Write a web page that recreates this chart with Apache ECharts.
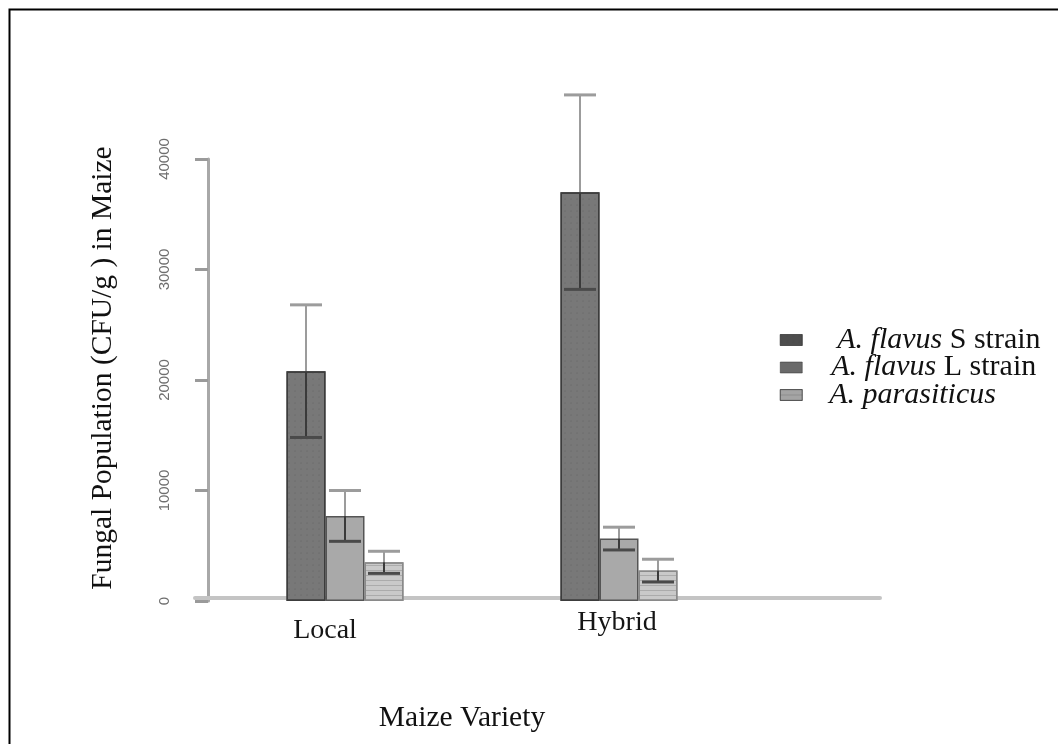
<!DOCTYPE html>
<html>
<head>
<meta charset="utf-8">
<script src="https://cdn.jsdelivr.net/npm/echarts@6/dist/echarts.min.js"></script>
<style>
html,body{margin:0;padding:0;background:#fff;}
#chart{width:1058px;height:744px;}
</style>
</head>
<body>
<div id="chart"></div>
<script>
// ---- data ----
const categories = ['Local', 'Hybrid'];
const seriesNames = ['A. flavus S strain', 'A. flavus L strain', 'A. parasiticus'];
const italicParts = ['A. flavus', 'A. flavus', 'A. parasiticus'];
const normalParts = [' S strain', ' L strain', ''];
const sStrainMeans = [20800, 37000];
const sStrainErrors = [6000, 8800];
const lStrainMeans = [7700, 5650];
const lStrainErrors = [2300, 1030];
const parasiticusMeans = [3500, 2750];
const parasiticusErrors = [1000, 1030];
const yTickMax = 40000;
const yTickStep = 10000;
const yTitle = 'Fungal Population (CFU/g ) in Maize';
const xTitle = 'Maize Variety';

// ---- styling / layout ----
const BAR_W = 39;
const CAP_W = 32;
const zeroY = 601;
const pxPerUnit = 442 / yTickMax;
const plotMax = 48000;
const serif = "'Liberation Serif', 'Times New Roman', serif";
const barFill = ['#787878', '#a9a9a9', '#c9c9c9'];
const barBorder = ['#3c3c3c', '#555555', '#8a8a8a'];
const legendFill = ['#4e4e4e', '#6a6a6a', '#a4a4a4'];
const legendTextPad = [30, 24, 22];
const barDecal = [
  {symbol: 'circle', symbolSize: 0.6, dashArrayX: [[2, 4]], dashArrayY: [2, 4], color: 'rgba(60,60,60,0.35)', rotation: 0},
  null,
  {symbol: 'rect', symbolSize: 1, dashArrayX: [1, 0], dashArrayY: [1, 4], color: 'rgba(80,80,80,0.25)', rotation: 0}
];

const means = [sStrainMeans, lStrainMeans, parasiticusMeans];
const errors = [sStrainErrors, lStrainErrors, parasiticusErrors];

const chart = echarts.init(document.getElementById('chart'), null, {renderer: 'canvas'});

const series = [];
seriesNames.forEach((name, s) => {
  const itemStyle = {color: barFill[s], borderColor: barBorder[s], borderWidth: 1.5};
  if (barDecal[s]) itemStyle.decal = barDecal[s];
  series.push({
    name: name,
    type: 'bar',
    xAxisIndex: 0, yAxisIndex: 0,
    barWidth: BAR_W,
    barGap: '0%',
    itemStyle: itemStyle,
    data: means[s],
    z: 2,
    silent: true
  });
});
seriesNames.forEach((name, s) => {
  series.push({
    type: 'custom',
    xAxisIndex: 0, yAxisIndex: 0,
    z: 4,
    silent: true,
    data: categories.map((c, i) => [i, means[s][i], errors[s][i]]),
    renderItem: function (params, api) {
      const ci = api.value(0), m = api.value(1), e = api.value(2);
      const pMean = api.coord([ci, m]);
      const pTop = api.coord([ci, m + e]);
      const pBot = api.coord([ci, m - e]);
      const x = pMean[0] + (s - 1) * BAR_W;
      return {
        type: 'group',
        children: [
          {type: 'line', shape: {x1: x, y1: pTop[1], x2: x, y2: pMean[1]}, style: {stroke: '#9c9c9c', lineWidth: 2}},
          {type: 'line', shape: {x1: x, y1: pMean[1], x2: x, y2: pBot[1]}, style: {stroke: '#3a3a3a', lineWidth: 2}},
          {type: 'line', shape: {x1: x - CAP_W / 2, y1: pTop[1], x2: x + CAP_W / 2, y2: pTop[1]}, style: {stroke: '#9c9c9c', lineWidth: 3}},
          {type: 'line', shape: {x1: x - CAP_W / 2, y1: pBot[1], x2: x + CAP_W / 2, y2: pBot[1]}, style: {stroke: '#4a4a4a', lineWidth: 3}}
        ]
      };
    }
  });
});

const labelRich = {
  Local: {fontFamily: serif, fontSize: 28, color: '#151515', lineHeight: 26, padding: [17, 40, 0, 0]},
  Hybrid: {fontFamily: serif, fontSize: 28, color: '#151515', lineHeight: 26, padding: [2, 4, 0, 0]}
};

const legendRich = {n: {fontFamily: serif, fontSize: 30, color: '#111', lineHeight: 24}};
legendTextPad.forEach((p, i) => {
  legendRich['i' + i] = {fontFamily: serif, fontSize: 30, fontStyle: 'italic', color: '#111', lineHeight: 24, padding: [0, 0, 0, p]};
});

const option = {
  backgroundColor: '#ffffff',
  animation: false,
  grid: [
    {left: 208, width: 548, top: zeroY - plotMax * pxPerUnit, height: plotMax * pxPerUnit},
    {left: 208, width: 10, top: zeroY - yTickMax * pxPerUnit, height: yTickMax * pxPerUnit},
    {left: 195, width: 685, top: 500, height: 98}
  ],
  xAxis: [
    {
      type: 'category', gridIndex: 0, data: categories,
      axisLine: {show: false}, axisTick: {show: false},
      axisLabel: {
        margin: 8,
        formatter: v => '{' + v + '|' + v + '}',
        rich: labelRich
      }
    },
    {type: 'value', gridIndex: 1, show: false},
    {
      type: 'value', gridIndex: 2,
      axisLine: {show: true, onZero: false, lineStyle: {color: '#c4c4c4', width: 4}},
      axisTick: {show: false}, axisLabel: {show: false}, splitLine: {show: false}
    }
  ],
  yAxis: [
    {type: 'value', gridIndex: 0, min: 0, max: plotMax, show: false},
    {
      type: 'value', gridIndex: 1, min: 0, max: yTickMax, interval: yTickStep,
      axisLine: {show: true, lineStyle: {color: '#a8a8a8', width: 3}},
      axisTick: {show: true, length: 13, lineStyle: {color: '#9a9a9a', width: 3}},
      axisLabel: {rotate: 90, margin: 36, color: '#6e6e6e', fontSize: 15,
                  formatter: v => String(v),
                  fontFamily: "'Liberation Sans Narrow', 'Liberation Sans', Arial, sans-serif"},
      splitLine: {show: false}
    },
    {type: 'value', gridIndex: 2, show: false}
  ],
  legend: {
    orient: 'vertical',
    left: 775, top: 320,
    itemWidth: 22, itemHeight: 11, itemGap: -2.5,
    icon: 'rect',
    selectedMode: false,
    data: seriesNames.map((n, i) => ({name: n, itemStyle: {color: legendFill[i], borderColor: '#333', borderWidth: 0.5}})),
    formatter: function (name) {
      const i = seriesNames.indexOf(name);
      return '{i' + i + '|' + italicParts[i] + '}' + (normalParts[i] ? '{n|' + normalParts[i] + '}' : '');
    },
    textStyle: {
      fontFamily: serif, fontSize: 30, color: '#111', lineHeight: 24,
      rich: legendRich
    }
  },
  graphic: [
    {type: 'rect', left: 7, top: 7, shape: {width: 1200, height: 1000}, style: {fill: 'none', stroke: '#000', lineWidth: 2}, silent: true},
    {type: 'text', x: 103, y: 368, rotation: Math.PI / 2,
     style: {text: yTitle, font: '29.5px ' + serif, fill: '#111', align: 'center', verticalAlign: 'middle'}},
    {type: 'text', x: 462, y: 718,
     style: {text: xTitle, font: '29.5px ' + serif, fill: '#111', align: 'center', verticalAlign: 'middle'}}
  ],
  series: series
};
chart.setOption(option);
</script>
</body>
</html>
